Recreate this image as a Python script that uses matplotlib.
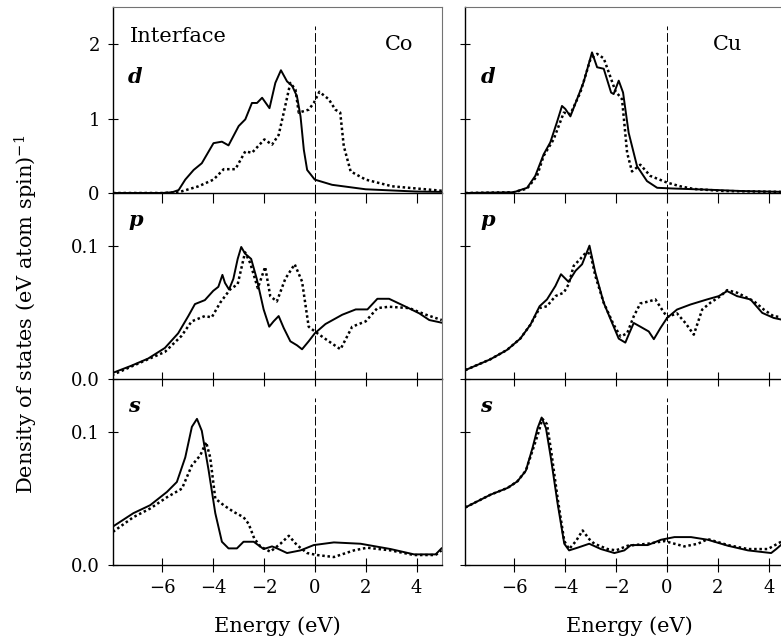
import matplotlib
matplotlib.use("Agg")
import matplotlib.pyplot as plt

plt.rcParams["font.family"] = ["DejaVu Serif"]
plt.rcParams["mathtext.fontset"] = "dejavuserif"

# ---- Co interface, d states (majority = solid, minority = dotted)
co_d_solid_e = [-7.93, -6.0, -5.6, -5.35, -5.09, -4.76, -4.44, -3.98, -3.65, -3.39, -2.99, -2.73,
                -2.47, -2.27, -2.07, -1.78, -1.55, -1.33, -1.09, -0.89, -0.70, -0.56, -0.43,
                -0.30, 0.0, 0.68, 2.0, 3.96, 5.0]
co_d_solid_v = [0.0, 0.0, 0.01, 0.04, 0.18, 0.31, 0.40, 0.67, 0.69, 0.64, 0.90, 0.99,
                1.21, 1.21, 1.28, 1.14, 1.48, 1.65, 1.50, 1.44, 1.30, 1.03, 0.58,
                0.31, 0.18, 0.11, 0.05, 0.02, 0.015]
co_d_dot_e = [-7.93, -6.0, -5.35, -4.57, -3.98, -3.58, -3.12, -2.73, -2.47, -1.98, -1.68, -1.42,
              -1.22, -0.96, -0.76, -0.63, -0.24, -0.04, 0.18, 0.55, 0.81, 1.0, 1.14, 1.41,
              2.0, 3.04, 5.0]
co_d_dot_v = [0.0, 0.0, 0.01, 0.09, 0.18, 0.32, 0.32, 0.56, 0.54, 0.72, 0.65, 0.78,
              1.08, 1.48, 1.39, 1.08, 1.12, 1.21, 1.36, 1.26, 1.12, 1.08, 0.63, 0.29,
              0.18, 0.09, 0.03]

# ---- Co interface, p states
co_p_solid_e = [-7.97, -7.21, -6.55, -5.89, -5.37, -4.97, -4.71, -4.32, -3.99, -3.79, -3.63, -3.53,
                -3.37, -3.20, -3.03, -2.89, -2.74, -2.50, -2.28, -2.01, -1.79, -1.62, -1.42,
                -1.22, -0.96, -0.70, -0.50, -0.24, 0.0, 0.42, 1.08, 1.61, 2.07, 2.46, 2.92,
                3.58, 4.11, 4.50, 4.99]
co_p_solid_v = [0.004, 0.0096, 0.015, 0.023, 0.034, 0.047, 0.056, 0.059, 0.066, 0.069, 0.078, 0.072,
                0.067, 0.075, 0.090, 0.099, 0.094, 0.090, 0.075, 0.052, 0.039, 0.043, 0.047,
                0.038, 0.028, 0.025, 0.022, 0.028, 0.034, 0.041, 0.048, 0.052, 0.052, 0.060, 0.060,
                0.054, 0.049, 0.044, 0.042]
co_p_dot_e = [-7.97, -7.21, -5.89, -5.24, -4.84, -4.32, -4.05, -3.72, -3.33, -3.03, -2.74, -2.54,
              -2.24, -1.95, -1.75, -1.49, -1.16, -0.79, -0.50, -0.24, 0.03, 0.55, 1.01, 1.47,
              2.0, 2.46, 2.92, 3.71, 4.37, 4.99]
co_p_dot_v = [0.0025, 0.009, 0.020, 0.032, 0.043, 0.047, 0.046, 0.057, 0.067, 0.071, 0.095, 0.087,
              0.068, 0.084, 0.062, 0.058, 0.075, 0.086, 0.073, 0.039, 0.035, 0.028, 0.022, 0.039,
              0.043, 0.053, 0.054, 0.053, 0.048, 0.044]

# ---- Co interface, s states
co_s_solid_e = [-7.93, -7.13, -6.47, -5.81, -5.42, -5.09, -4.83, -4.63, -4.44, -4.17, -3.91, -3.65,
                -3.39, -3.06, -2.80, -2.40, -2.01, -1.68, -1.48, -1.09, -0.56, -0.04, 0.75,
                1.80, 2.98, 3.90, 4.75, 4.98]
co_s_solid_v = [0.029, 0.039, 0.045, 0.055, 0.0625, 0.081, 0.104, 0.110, 0.101, 0.071, 0.039, 0.0175,
                0.0125, 0.0125, 0.0175, 0.0175, 0.012, 0.014, 0.0125, 0.009, 0.011, 0.015, 0.017,
                0.016, 0.012, 0.008, 0.008, 0.0125]
co_s_dot_e = [-7.93, -7.13, -6.47, -5.81, -5.22, -4.83, -4.50, -4.27, -4.11, -3.91, -3.58, -3.19,
              -2.80, -2.60, -2.38, -2.14, -1.75, -1.35, -1.02, -0.70, -0.30, 0.09, 0.75, 1.54,
              2.06, 2.98, 3.90, 4.75, 4.98]
co_s_dot_v = [0.025, 0.036, 0.0425, 0.051, 0.0575, 0.075, 0.0825, 0.0925, 0.081, 0.050, 0.045, 0.040,
              0.036, 0.031, 0.020, 0.014, 0.010, 0.016, 0.022, 0.015, 0.009, 0.0075, 0.006, 0.011,
              0.013, 0.011, 0.0075, 0.0075, 0.011]

# ---- Cu interface, d states
cu_d_solid_e = [-7.93, -6.03, -5.50, -5.18, -4.85, -4.59, -4.33, -4.13, -4.0, -3.80, -3.54, -3.28,
                -2.95, -2.75, -2.49, -2.20, -2.10, -1.90, -1.73, -1.51, -1.18, -0.79, -0.39,
                0.26, 1.57, 2.88, 5.0]
cu_d_solid_v = [0.0, 0.01, 0.07, 0.23, 0.52, 0.68, 0.95, 1.17, 1.13, 1.03, 1.26, 1.49,
                1.89, 1.69, 1.67, 1.35, 1.33, 1.51, 1.35, 0.81, 0.36, 0.16, 0.07,
                0.06, 0.045, 0.027, 0.012]
cu_d_dot_e = [-7.93, -6.03, -5.50, -5.11, -4.85, -4.46, -4.06, -3.80, -3.41, -3.01, -2.75, -2.49,
              -2.29, -2.03, -1.77, -1.57, -1.38, -1.05, -0.66, 0.0, 0.52, 1.05, 2.23, 5.0]
cu_d_dot_v = [0.0, 0.01, 0.06, 0.23, 0.50, 0.72, 1.08, 1.06, 1.35, 1.80, 1.87, 1.81,
              1.62, 1.37, 1.26, 0.54, 0.29, 0.38, 0.23, 0.14, 0.09, 0.054, 0.027, 0.012]

# ---- Cu interface, p states
cu_p_solid_e = [-7.93, -6.95, -6.29, -5.77, -5.37, -5.01, -4.72, -4.39, -4.17, -3.87, -3.60, -3.34,
                -3.05, -2.82, -2.49, -2.16, -1.90, -1.64, -1.51, -1.31, -1.05, -0.72, -0.52,
                -0.26, 0.0, 0.39, 0.92, 1.57, 2.03, 2.36, 2.75, 3.28, 3.74, 4.19, 4.5, 5.0]
cu_p_solid_v = [0.0063, 0.0144, 0.0215, 0.030, 0.0405, 0.0544, 0.0595, 0.0696, 0.0785, 0.0727, 0.081,
                0.086, 0.100, 0.0797, 0.057, 0.0418, 0.030, 0.027, 0.033, 0.0418, 0.039, 0.0354,
                0.0296, 0.038, 0.0456, 0.0519, 0.0557, 0.0595, 0.062, 0.0658, 0.062, 0.0595,
                0.0494, 0.0456, 0.0443, 0.044]
cu_p_dot_e = [-7.93, -6.95, -6.29, -5.77, -5.37, -5.01, -4.72, -4.39, -4.06, -3.87, -3.67, -3.41,
              -3.18, -3.01, -2.82, -2.49, -2.10, -1.83, -1.57, -1.31, -1.05, -0.72, -0.46,
              -0.20, 0.0, 0.39, 0.72, 1.05, 1.38, 1.70, 2.10, 2.36, 2.75, 3.41, 3.80, 4.19,
              4.5, 5.0]
cu_p_dot_v = [0.0063, 0.0144, 0.0215, 0.030, 0.0405, 0.053, 0.0544, 0.062, 0.0646, 0.0709, 0.0848,
              0.090, 0.095, 0.0937, 0.0772, 0.057, 0.0405, 0.0316, 0.034, 0.0468, 0.0565, 0.058,
              0.0595, 0.0519, 0.0463, 0.049, 0.0418, 0.033, 0.0519, 0.057, 0.062, 0.0665, 0.0646,
              0.0582, 0.0519, 0.0468, 0.0463, 0.046]

# ---- Cu interface, s states
cu_s_solid_e = [-7.93, -6.93, -6.27, -5.88, -5.55, -5.29, -5.09, -4.93, -4.76, -4.57, -4.30, -4.04,
                -3.85, -3.52, -3.06, -2.60, -2.07, -1.68, -1.42, -0.76, -0.24, 0.29, 0.94,
                1.60, 2.39, 3.18, 4.09, 4.29, 4.53, 5.0]
cu_s_solid_v = [0.0433, 0.053, 0.058, 0.063, 0.071, 0.088, 0.103, 0.111, 0.103, 0.081, 0.046, 0.016,
                0.011, 0.013, 0.016, 0.012, 0.009, 0.011, 0.015, 0.015, 0.019, 0.021, 0.021,
                0.019, 0.0145, 0.011, 0.009, 0.012, 0.016, 0.018]
cu_s_dot_e = [-7.93, -6.93, -6.27, -5.88, -5.55, -5.29, -5.05, -4.90, -4.72, -4.55, -4.30, -4.04,
              -3.85, -3.58, -3.32, -3.06, -2.86, -2.34, -2.01, -1.55, -0.76, -0.10, 0.29, 0.68,
              1.21, 1.60, 2.39, 3.18, 3.96, 4.53, 5.0]
cu_s_dot_v = [0.0433, 0.053, 0.058, 0.063, 0.071, 0.086, 0.100, 0.110, 0.106, 0.085, 0.050, 0.018,
              0.012, 0.018, 0.026, 0.0195, 0.016, 0.012, 0.011, 0.0145, 0.016, 0.018, 0.016, 0.014,
              0.016, 0.0195, 0.015, 0.012, 0.012, 0.018, 0.020]

x_ticks = [-6, -4, -2, 0, 2, 4]
row_names = ["d", "p", "s"]
row_ylim = [2.5, 0.14, 0.14]
row_yticks = [[0, 1, 2], [0.0, 0.1], [0.0, 0.1]]
row_yticklabels = [["0", "1", "2"], ["0.0", "0.1"], ["0.0", "0.1"]]

panels = {
    ("Co", 0): (co_d_solid_e, co_d_solid_v, co_d_dot_e, co_d_dot_v),
    ("Co", 1): (co_p_solid_e, co_p_solid_v, co_p_dot_e, co_p_dot_v),
    ("Co", 2): (co_s_solid_e, co_s_solid_v, co_s_dot_e, co_s_dot_v),
    ("Cu", 0): (cu_d_solid_e, cu_d_solid_v, cu_d_dot_e, cu_d_dot_v),
    ("Cu", 1): (cu_p_solid_e, cu_p_solid_v, cu_p_dot_e, cu_p_dot_v),
    ("Cu", 2): (cu_s_solid_e, cu_s_solid_v, cu_s_dot_e, cu_s_dot_v),
}

fig = plt.figure(figsize=(7.81, 6.36), dpi=100)

col_left = {"Co": 113 / 781, "Cu": 465.3 / 781}
ax_w = 329 / 781
ax_h = 186 / 636
row_bottom = [(636 - 193) / 636, (636 - 378.5) / 636, (636 - 565) / 636]
xlim = (-7.93, 5.0)

for metal in ["Co", "Cu"]:
    for r in range(3):
        ax = fig.add_axes([col_left[metal], row_bottom[r], ax_w, ax_h])
        ax.set_facecolor("none")
        se, sv, de, dv = panels[(metal, r)]
        ax.plot(se, sv, color="black", lw=1.4, solid_joinstyle="round")
        ax.plot(de, dv, color="black", lw=1.8, linestyle=(0, (1, 1.1)))
        ax.axvline(0, ymax=0.9, color="black", lw=0.7, linestyle=(0, (9, 3)))
        ax.set_xlim(*xlim)
        ax.set_ylim(0, row_ylim[r])
        ax.set_xticks(x_ticks)
        ax.set_yticks(row_yticks[r])
        if metal == "Co":
            ax.set_yticklabels(row_yticklabels[r], fontsize=13)
        else:
            ax.set_yticklabels([])
        ax.tick_params(axis="y", direction="inout", length=7, width=0.8, pad=6)
        if r == 0:
            ax.tick_params(axis="x", direction="out", length=7, width=0.8)
        else:
            ax.tick_params(axis="x", direction="inout", length=10, width=0.8)
        if r == 2:
            ax.set_xticklabels([f"{t}".replace("-", "\u2212") for t in x_ticks], fontsize=13)
            ax.tick_params(axis="x", pad=5)
            ax.set_xlabel("Energy (eV)", fontsize=15, labelpad=14)
        else:
            ax.set_xticklabels([])
        for side in ["left", "bottom"]:
            ax.spines[side].set_linewidth(1.0)
        ax.spines["right"].set_linewidth(0.8)
        ax.spines["right"].set_color("0.45")
        if r == 0:
            ax.spines["top"].set_linewidth(0.8)
            ax.spines["top"].set_color("0.45")
        else:
            ax.spines["top"].set_visible(False)
        ax.text(0.046, 0.82 if r else 0.59, row_names[r], transform=ax.transAxes,
                fontsize=15, style="italic", weight="bold", va="baseline")
        if r == 0:
            if metal == "Co":
                ax.text(0.05, 0.81, "Interface", transform=ax.transAxes,
                        fontsize=15, va="baseline")
                ax.text(0.825, 0.77, "Co", transform=ax.transAxes,
                        fontsize=15, va="baseline")
            else:
                ax.text(0.752, 0.77, "Cu", transform=ax.transAxes,
                        fontsize=15, va="baseline")

fig.text(0.034, 0.505, r"Density of states (eV atom spin)$^{-1}$", rotation=90,
         ha="center", va="center", fontsize=15)

fig.savefig("out.png", dpi=100)
